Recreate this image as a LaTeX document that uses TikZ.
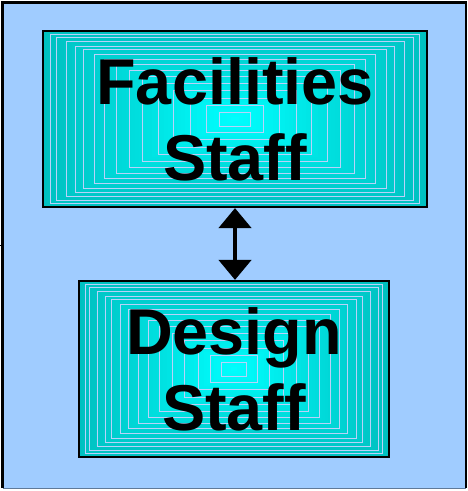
\documentclass[tikz,border=0pt]{standalone}
\usepackage{fontspec}
\setmainfont{Liberation Sans}
\usetikzlibrary{arrows.meta,calc}
\definecolor{bgblue}{RGB}{160,204,255}
\definecolor{edgecyan}{RGB}{0,192,192}
\definecolor{midcyan}{RGB}{0,255,255}
\definecolor{ringline}{RGB}{185,210,250}
\tikzset{
  ringfill/.style={
    path picture={
      \foreach \i in {0,...,45}{
        \pgfmathsetmacro\t{\i/46}
        \pgfmathsetmacro\p{100*(\t)^1.0}
        \fill[midcyan!\p!edgecyan]
          ($(path picture bounding box.south west)!\t*0.5!(path picture bounding box.north east)$)
          rectangle
          ($(path picture bounding box.north east)!\t*0.5!(path picture bounding box.south west)$);
      }
      \foreach \t in {0.04,0.07,0.12,0.17,0.21,0.27,0.32,0.38,0.45,0.52,0.6,0.68,0.77,0.85,0.92}{
        \draw[ringline, line width=0.8bp]
          ($(path picture bounding box.south west)!\t*0.5!(path picture bounding box.north east)$)
          rectangle
          ($(path picture bounding box.north east)!\t*0.5!(path picture bounding box.south west)$);
      }
    }
  },
  staffbox/.style={ringfill, draw=black, line width=2.2bp, inner sep=0pt,
    align=center, font=\fontsize{65}{76}\selectfont\bfseries, text=black},
  linkarrow/.style={line width=4.5bp,
    {Triangle[width=32bp,length=20bp]}-{Triangle[width=32bp,length=20bp]}}
}
\begin{document}
\begin{tikzpicture}[x=1bp,y=-1bp]
\useasboundingbox (0,0) rectangle (468,491);
\fill[bgblue] (3,3) rectangle (466,488);
\draw[black, line width=2.5bp] (2.5,488) -- (2.5,2.5) -- (466,2.5) -- (466,488);
\draw[black!40!bgblue, line width=1bp] (2.5,488.5) -- (466,488.5);
\draw[black, line width=1bp] (0,245) -- (2.5,245);
\node[staffbox, minimum width=384bp, minimum height=176bp] (fac) at (235,119) {Facilities\\Staff};
\node[staffbox, minimum width=310bp, minimum height=176bp] (des) at (234,369) {Design\\Staff};
\draw[linkarrow] (fac.south) -- (fac.south |- des.north);
\end{tikzpicture}
\end{document}
